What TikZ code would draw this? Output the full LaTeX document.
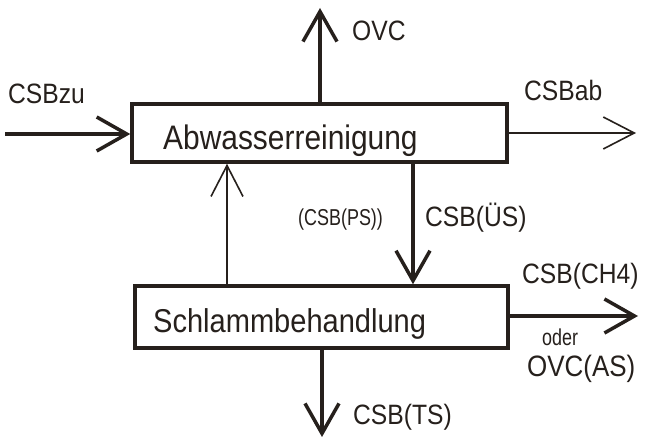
\documentclass[tikz,border=0pt]{standalone}
\usepackage{fontspec}
\setmainfont{Liberation Sans}[FakeStretch=0.88]
\newfontfamily\narrowlabfont{Liberation Sans}[FakeStretch=0.78]
\usetikzlibrary{arrows.meta}
\definecolor{ink}{RGB}{38,32,28}
\tikzset{
  x=1pt, y=-1pt,
  box/.style={draw=ink, line width=3.5pt, rectangle, inner sep=0pt},
  boxtext/.style={anchor=base west, inner sep=0pt, text=ink, font=\fontsize{34}{36}\selectfont},
  lab/.style={anchor=base west, inner sep=0pt, text=ink, font=\fontsize{28}{30}\selectfont},
  smalllab/.style={anchor=base west, inner sep=0pt, text=ink, font=\narrowlabfont\fontsize{23}{25}\selectfont},
  thickflow/.style={draw=ink, line width=3.5pt, -{Straight Barb[length=30pt,width=34pt]}},
  thinflow/.style={draw=ink, line width=1.6pt, -{Straight Barb[length=31pt,width=32pt]}},
}
\begin{document}
\begin{tikzpicture}
\fill[white] (0,0) rectangle (646,438);
\useasboundingbox (0,0) rectangle (646,438);
% boxes
\node[box, minimum width=375pt, minimum height=58pt] (A) at (319.5,133) {};
\node[box, minimum width=373pt, minimum height=62pt] (S) at (321.5,317) {};
\node[boxtext] (At) at (163,150) {Abwasserreinigung};
\node[boxtext, font=\fontsize{33}{36}\selectfont] (St) at (153,333) {Schlammbehandlung};
% free ends
\coordinate (in) at (5,134);
\coordinate (ovc) at (320,8);
\coordinate (ab) at (636,133);
\coordinate (ch4) at (638,316);
\coordinate (ts) at (322,437);
% connectors
\draw[thickflow] (in) -- (A.west |- in);
\draw[thickflow] (A.north -| ovc) -- (ovc);
\draw[thinflow] (A.east |- ab) -- (ab);
\draw[thinflow] (S.north -| 227,0) -- (A.south -| 227,0);
\draw[thickflow] (A.south -| 413,0) -- (S.north -| 413,0);
\draw[thickflow] (S.east |- ch4) -- (ch4);
\draw[thickflow] (S.south -| ts) -- (ts);
% labels
\node[lab] (l1) at (8,104) {CSBzu};
\node[lab] (l2) at (352,41) {OVC};
\node[lab] (l3) at (524,101) {CSBab};
\node[smalllab] (l4) at (298,226) {(CSB(PS))};
\node[lab] (l5) at (425,227) {CSB(ÜS)};
\node[lab] (l6) at (522,284) {CSB(CH4)};
\node[smalllab] (l7) at (542,346) {oder};
\node[lab, font=\fontsize{29.5}{31}\selectfont] (l8) at (527,377) {OVC(AS)};
\node[lab] (l9) at (353,425) {CSB(TS)};
\end{tikzpicture}
\end{document}
